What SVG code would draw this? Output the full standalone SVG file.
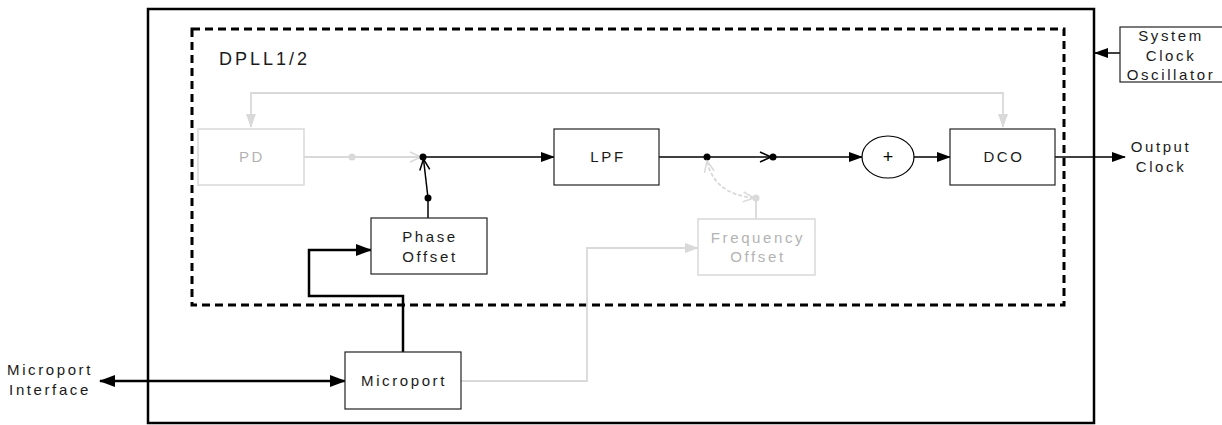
<svg xmlns="http://www.w3.org/2000/svg" width="1222" height="425" viewBox="0 0 1222 425">
<style>
.t{font-family:"Liberation Sans",Arial,sans-serif;font-size:15px;letter-spacing:2.6px;fill:#1a1a1a;text-anchor:middle}
.tg{font-family:"Liberation Sans",Arial,sans-serif;font-size:15px;letter-spacing:2.6px;fill:#b3b3b3;text-anchor:middle}
.box{fill:#fff;stroke:#222;stroke-width:1.2}
.gbox{fill:#fff;stroke:#d9d9d9;stroke-width:1.5}
.ln{fill:none;stroke:#000;stroke-width:1.5}
.thk{fill:none;stroke:#000;stroke-width:2.5}
.gln{fill:none;stroke:#d9d9d9;stroke-width:1.8}
</style>
<defs>
<marker id="ab" markerUnits="userSpaceOnUse" markerWidth="14" markerHeight="10" refX="13" refY="5" orient="auto-start-reverse" viewBox="0 0 14 10"><path d="M0,0 L14,5 L0,10 Z" fill="#000"/></marker>
<marker id="abt" markerUnits="userSpaceOnUse" markerWidth="16" markerHeight="12" refX="15" refY="6" orient="auto-start-reverse" viewBox="0 0 16 12"><path d="M0,0 L16,6 L0,12 Z" fill="#000"/></marker>
<marker id="ag" markerUnits="userSpaceOnUse" markerWidth="14" markerHeight="10" refX="13" refY="5" orient="auto-start-reverse" viewBox="0 0 14 10"><path d="M0,0 L14,5 L0,10 Z" fill="#d9d9d9"/></marker>
<marker id="ob" markerUnits="userSpaceOnUse" markerWidth="14" markerHeight="12" refX="12" refY="6" orient="auto-start-reverse" viewBox="0 0 14 12"><path d="M1,1 L12,6 L1,11" fill="none" stroke="#000" stroke-width="1.5"/></marker>
<marker id="og" markerUnits="userSpaceOnUse" markerWidth="14" markerHeight="12" refX="12" refY="6" orient="auto-start-reverse" viewBox="0 0 14 12"><path d="M1,1 L12,6 L1,11" fill="none" stroke="#d9d9d9" stroke-width="1.5"/></marker>
</defs>
<rect width="1222" height="425" fill="#fff"/>

<g id="outer">
<rect x="148" y="9" width="946" height="414" fill="none" stroke="#000" stroke-width="2.5"/>
</g>
<g id="dpll">
<rect x="192" y="29" width="872" height="276" fill="none" stroke="#000" stroke-width="3" stroke-dasharray="8,5"/>
<text x="219" y="65" style="font-family:'Liberation Sans',Arial,sans-serif;font-size:18px;letter-spacing:3px;fill:#1a1a1a">DPLL1/2</text>
</g>

<g id="connectors">
<path class="gln" d="M251,127 V93 H1003 V127" marker-start="url(#ag)" marker-end="url(#ag)"/>
<path class="gln" d="M304,157 H421" marker-end="url(#og)"/>
<circle cx="352" cy="157" r="3.5" fill="#d9d9d9"/>
<path class="ln" d="M428,218 V198"/>
<path class="ln" d="M428,198 L423.5,159" marker-end="url(#ob)"/>
<circle cx="428" cy="198" r="3.5" fill="#000"/>
<path class="ln" d="M423,157 H554" marker-end="url(#ab)"/>
<circle cx="423" cy="157" r="3.5" fill="#000"/>
<path class="ln" d="M659,157 H771" marker-end="url(#ob)"/>
<circle cx="707" cy="157" r="3.5" fill="#000"/>
<circle cx="773" cy="157" r="3.5" fill="#000"/>
<path class="ln" d="M773,157 H862" marker-end="url(#ab)"/>
<path class="ln" d="M914,157 H950" marker-end="url(#ab)"/>
<path d="M754,198 Q714,194 707,161" fill="none" stroke="#d9d9d9" stroke-width="1.8" stroke-dasharray="4,2" marker-start="url(#og)" marker-end="url(#og)"/>
<path class="gln" d="M756,219 V198"/>
<circle cx="756" cy="198" r="3.5" fill="#d9d9d9"/>
<path class="gln" d="M461,381 H587 V248 H698" marker-end="url(#ag)"/>
<path class="thk" d="M403,352 V296 H309 V250 H371" marker-end="url(#abt)"/>
<path class="thk" d="M100,381 H345" marker-start="url(#abt)" marker-end="url(#abt)"/>
<path class="ln" d="M1055,157 H1125" marker-end="url(#ab)"/>
<path class="ln" d="M1132,53 H1095" marker-end="url(#ab)"/>
</g>

<g id="pd">
<rect class="gbox" x="198" y="129" width="106" height="56"/>
<text class="tg" x="252" y="162">PD</text>
</g>
<g id="lpf">
<rect class="box" x="554" y="129" width="105" height="56"/>
<text class="t" x="608" y="162">LPF</text>
</g>
<g id="sum">
<ellipse cx="888" cy="157" rx="26" ry="21" fill="#fff" stroke="#000" stroke-width="1.2"/>
<text x="888" y="163" style="font-family:'Liberation Sans',Arial,sans-serif;font-size:18px;fill:#000;text-anchor:middle">+</text>
</g>
<g id="dco">
<rect class="box" x="950" y="129" width="105" height="56"/>
<text class="t" x="1004" y="162">DCO</text>
</g>
<g id="phase-offset">
<rect class="box" x="371" y="218" width="116" height="56"/>
<text class="t" x="430" y="242">Phase</text>
<text class="t" x="430" y="262">Offset</text>
</g>
<g id="frequency-offset">
<rect class="gbox" x="698" y="219" width="117" height="56"/>
<text class="tg" x="758" y="243">Frequency</text>
<text class="tg" x="758" y="262">Offset</text>
</g>
<g id="microport">
<rect class="box" x="345" y="352" width="116" height="57"/>
<text class="t" x="404" y="386">Microport</text>
</g>
<g id="microport-interface">
<text class="t" x="50" y="375">Microport</text>
<text class="t" x="50" y="395">Interface</text>
</g>
<g id="system-clock">
<rect class="box" x="1120" y="27" width="105" height="55"/>
<text class="t" x="1171" y="41">System</text>
<text class="t" x="1171" y="61">Clock</text>
<text class="t" x="1171" y="80">Oscillator</text>
</g>
<g id="output-clock">
<text class="t" x="1161" y="152">Output</text>
<text class="t" x="1161" y="172">Clock</text>
</g>
</svg>
